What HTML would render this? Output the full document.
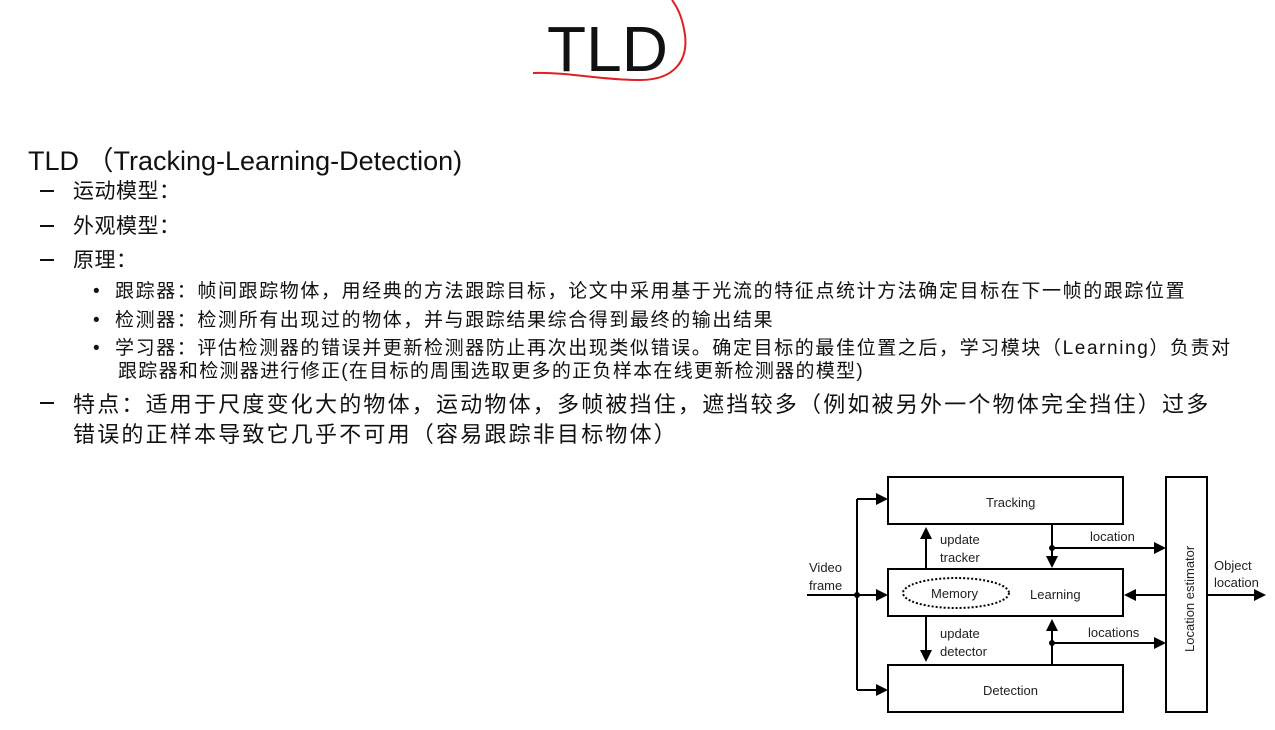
<!DOCTYPE html>
<html><head><meta charset="utf-8"><style>
html,body{margin:0;padding:0;background:#fff;}
body{width:1275px;height:730px;position:relative;overflow:hidden;font-family:"Liberation Sans","Noto Sans CJK SC",sans-serif;color:#111;}
.a{position:absolute;white-space:nowrap;}
.l1{font-size:21px;letter-spacing:0.5px;}
.b{font-size:19px;letter-spacing:1.6px;}
.d{font-size:22px;}
.ds{position:absolute;left:40px;width:14px;height:2px;background:#111;}
</style></head><body>
<div class="a" style="left:547px;top:12px;font-size:64px;">TLD</div>
<svg class="a" style="left:0;top:0" width="1275" height="730">
<path d="M533,73 C570,72 600,80 640,80 C675,80 688,60 685,35 C683,20 678,8 672,0" fill="none" stroke="#e02020" stroke-width="2"/>
<g fill="none" stroke="#000" stroke-width="2">
<rect x="888" y="477" width="235" height="47"/>
<rect x="888" y="569" width="235" height="47"/>
<rect x="888" y="665" width="235" height="47"/>
<rect x="1166" y="477" width="41" height="235"/>
<ellipse cx="956" cy="593" rx="53" ry="15" stroke-dasharray="2,2"/>
<path d="M807,595H878 M857,499V690 M857,499H878 M857,690H878 M926,569V537 M926,616V652 M1052,524V557 M1052,548H1155 M1052,665V631 M1052,643H1155 M1166,595H1135 M1207,595H1255"/>
</g>
<g fill="#000">
<circle cx="857" cy="595" r="3"/><circle cx="1052" cy="548" r="3"/><circle cx="1052" cy="643" r="3"/>
<path d="M888,595l-12,-6v12z M888,499l-12,-6v12z M888,690l-12,-6v12z M926,527l-6,12h12z M926,662l-6,-12h12z M1052,568l-6,-12h12z M1052,619l-6,12h12z M1166,548l-12,-6v12z M1166,643l-12,-6v12z M1124,595l12,-6v12z M1266,595l-12,-6v12z"/>
</g>
<g font-family="Liberation Sans, sans-serif" font-size="13" fill="#222">
<text x="986" y="507">Tracking</text>
<text x="931" y="598">Memory</text>
<text x="1030" y="599">Learning</text>
<text x="983" y="695">Detection</text>
<text x="940" y="544">update</text><text x="940" y="562">tracker</text>
<text x="940" y="638">update</text><text x="940" y="656">detector</text>
<text x="1090" y="541">location</text>
<text x="1088" y="637">locations</text>
<text x="809" y="572">Video</text><text x="809" y="590">frame</text>
<text x="1214" y="570">Object</text><text x="1214" y="587">location</text>
<text transform="translate(1194,652) rotate(-90)">Location estimator</text>
</g>
</svg>
<div class="a" style="left:28px;top:139px;font-size:27px;">TLD （Tracking-Learning-Detection)</div>
<div class="ds" style="top:190px;"></div><div class="a l1" style="left:73px;top:175px;">运动模型：</div>
<div class="ds" style="top:225px;"></div><div class="a l1" style="left:73px;top:210px;">外观模型：</div>
<div class="ds" style="top:259px;"></div><div class="a l1" style="left:73px;top:244px;">原理：</div>
<div class="a b" style="left:93px;top:276px;">•&nbsp;&nbsp;跟踪器：帧间跟踪物体，用经典的方法跟踪目标，论文中采用基于光流的特征点统计方法确定目标在下一帧的跟踪位置</div>
<div class="a b" style="left:93px;top:305px;">•&nbsp;&nbsp;检测器：检测所有出现过的物体，并与跟踪结果综合得到最终的输出结果</div>
<div class="a b" style="left:93px;top:333px;">•&nbsp;&nbsp;学习器：评估检测器的错误并更新检测器防止再次出现类似错误。确定目标的最佳位置之后，学习模块（Learning）负责对</div>
<div class="a b" style="left:118px;top:356px;letter-spacing:1.3px;">跟踪器和检测器进行修正(在目标的周围选取更多的正负样本在线更新检测器的模型)</div>
<div class="ds" style="top:402px;"></div><div class="a d" style="left:73px;top:387px;letter-spacing:2.2px;">特点：适用于尺度变化大的物体，运动物体，多帧被挡住，遮挡较多（例如被另外一个物体完全挡住）过多</div>
<div class="a d" style="left:73px;top:417px;letter-spacing:2.2px;">错误的正样本导致它几乎不可用（容易跟踪非目标物体）</div>
</body></html>
